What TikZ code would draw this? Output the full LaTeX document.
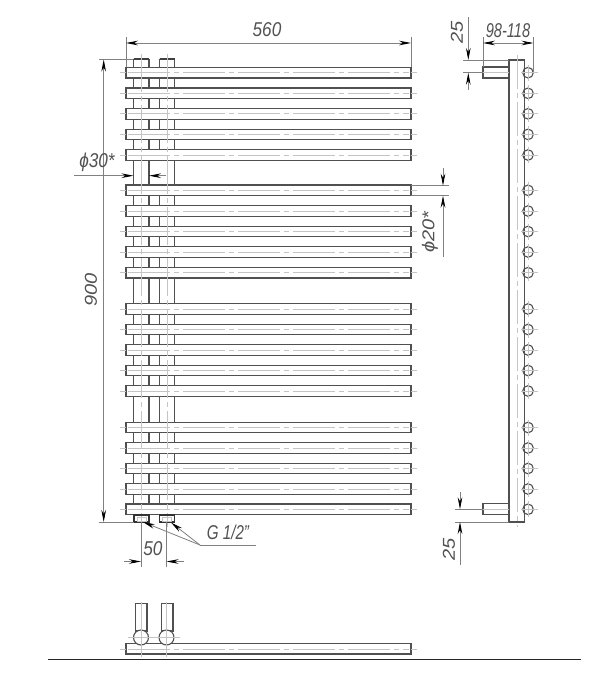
\documentclass[tikz,border=0pt]{standalone}
\usepackage{fontspec}
\setmainfont{Liberation Sans}
\usetikzlibrary{arrows.meta}
\definecolor{ink}{HTML}{505050}
\definecolor{dimc}{HTML}{808080}
\definecolor{cen}{HTML}{C4C4C4}
\tikzset{
  part/.style={draw=ink,line width=1.1pt},
  fillpart/.style={part,fill=white},
  centre/.style={draw=cen,line width=.8pt,dash pattern=on 42pt off 4pt on 5pt off 4pt},
  cross/.style={draw=cen,line width=.7pt},
  dimline/.style={draw=dimc,line width=.8pt},
  tip/.style={-{Stealth[length=12pt,width=4.6pt,color=black]}},
  dimtext/.style={text=black!68,inner sep=0pt,font=\fontsize{20}{20}\selectfont\itshape,xscale=.86}
}
\newcommand{\barlist}{72.7,93.3,113.8,134.4,155,190.3,211,231.5,252,272.7,309,329.5,350,370.5,391,427.5,448,468.5,489,509.3}
\begin{document}
\begin{tikzpicture}[x=1pt,y=-1pt]
\useasboundingbox[fill=white] (0,0) rectangle (600,675);
% vertical tubes, front view
\draw[part] (133.5,58.5) -- (133.5,515) (149,58.5) -- (149,515) (174.5,58.5) -- (174.5,515);
\draw[part] (159.5,58.5) -- (159.5,155) (159.5,185) -- (159.5,515);
\draw[part,line width=1.8pt,draw=black!75] (133.5,59) -- (149,59) (159.5,59) -- (174.5,59);
% bars, front view
\foreach \b in \barlist {
  \draw[fillpart] (126,\b-5.3) rectangle (411,\b+5.3);
  \draw[cross] (120,\b) -- (126,\b) (411,\b) -- (417,\b);
  \draw[centre] (128,\b) -- (409,\b);
}
% tube centre lines
\draw[centre,dash pattern=on 38pt off 4pt on 5pt off 4pt] (141,54) -- (141,527) (167,54) -- (167,527);
% fittings
\foreach \x in {134,159.5}{
  \draw[part,draw=black!80,line width=1.3pt] (\x,515) rectangle (\x+15,522);
  \draw[draw=cen,line width=.7pt] (\x+3,517) rectangle (\x+12,521);
}
% dimension 560
\draw[dimline] (126,37) -- (126,67) (411,37) -- (411,67);
\draw[dimline] (138,43) -- (399,43);
\draw[dimline,tip] (138,43) -- (126,43);
\draw[dimline,tip] (399,43) -- (411,43);
\node[dimtext] (d560) at (267,30) {560};
% dimension 900
\draw[dimline] (99,59.5) -- (133,59.5) (99,522) -- (134,522);
\draw[dimline,tip] (103.7,290) -- (103.7,59.5);
\draw[dimline,tip] (103.7,290) -- (103.7,522);
\node[dimtext,rotate=90] (d900) at (91,290) {900};
% dimension phi 30
\draw[dimline,tip] (74,175.7) -- (133.5,175.7);
\draw[dimline,tip] (166,175.7) -- (149,175.7);
\node[dimtext] (d30) at (97,162) {ϕ30*};
% dimension phi 20
\draw[dimline] (411,185.7) -- (449,185.7) (411,195.7) -- (449,195.7);
\draw[dimline,tip] (443,168) -- (443,185.7);
\draw[dimline,tip] (443,257) -- (443,195.7);
\node[dimtext,rotate=90] (d20) at (430,232) {ϕ20*};
% dimension 50
\draw[dimline] (141,522) -- (141,567) (166.5,522) -- (166.5,567);
\draw[dimline,tip] (124,561.5) -- (141,561.5);
\draw[dimline,tip] (184,561.5) -- (166.5,561.5);
\node[dimtext] (d50) at (153,549) {50};
% G 1/2 leader
\coordinate (lead) at (200,545);
\draw[dimline] (256,545) -- (lead);
\draw[dimline,tip] (lead) -- (143,522);
\draw[dimline,tip] (lead) -- (171,522.5);
\node[dimtext,xscale=.88] (dg) at (228,532) {G 1/2"};
% side view
\foreach \b in \barlist {
  \draw[cross] (521,\b) -- (538,\b) (528,\b-8) -- (528,\b+8);
}
\draw[part,fill=white] (509,60) rectangle (524.5,522);
\draw[part,line width=1.6pt] (509,60.5) -- (524.5,60.5) (509,521.5) -- (524.5,521.5);
\draw[centre,dash pattern=on 34pt off 4pt on 5pt off 4pt] (517,55) -- (517,527);
\foreach \b in \barlist {
  \draw[part] (528,\b) circle (5.3);
  \draw[cross] (521,\b) -- (538,\b) (528,\b-8) -- (528,\b+8);
}
\draw[fillpart] (483,67) rectangle (509,78);
\draw[fillpart] (483,503.5) rectangle (509,514.8);
\draw[cross] (483,72.7) -- (509,72.7) (483,509.3) -- (509,509.3);
% dimension 98-118
\draw[dimline] (483,37) -- (483,67) (533.5,37) -- (533.5,72);
\draw[dimline] (495,43) -- (521,43);
\draw[dimline,tip] (495,43) -- (483,43);
\draw[dimline,tip] (521,43) -- (533.5,43);
\node[dimtext,xscale=.85] (d98) at (508,30.5) {98-118};
% dimension 25 top
\draw[dimline] (463,60) -- (509,60) (463,72.7) -- (483,72.7);
\draw[dimline,tip] (468.3,17) -- (468.3,60);
\draw[dimline,tip] (468.3,90) -- (468.3,72.7);
\node[dimtext,rotate=90] (d25a) at (457,32) {25};
% dimension 25 bottom
\draw[dimline] (455,509.3) -- (483,509.3) (455,522) -- (509,522);
\draw[dimline,tip] (460,492) -- (460,509.3);
\draw[dimline,tip] (460,565) -- (460,522);
\node[dimtext,rotate=90] (d25b) at (449,549) {25};
% bottom view
\draw[part] (135.5,603.5) rectangle (147,631) (161.5,603.5) rectangle (173,631);
\draw[fillpart] (126,643.5) rectangle (411,654);
\draw[cross] (120,649) -- (126,649) (411,649) -- (417,649);
\draw[centre] (128,649) -- (409,649);
\draw[fillpart] (141,637.5) circle (7.5) (166.5,637.5) circle (7.5);
\draw[cross] (141,602) -- (141,657) (166.5,602) -- (166.5,657) (128,637.5) -- (180,637.5);
% ground line
\draw[black!85,line width=1pt] (48,659.5) -- (581,659.5);
\end{tikzpicture}
\end{document}
